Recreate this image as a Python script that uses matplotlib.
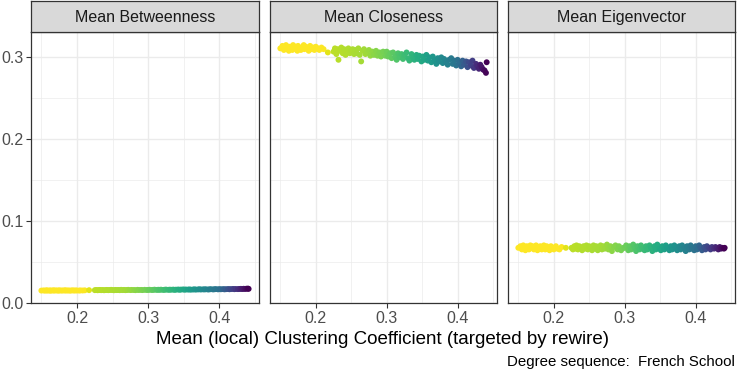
import matplotlib
matplotlib.use("Agg")
import matplotlib.pyplot as plt
import numpy as np
from matplotlib.ticker import MultipleLocator

plt.rcParams["font.family"] = ["Liberation Sans", "DejaVu Sans"]

PANELS = ["Mean Betweenness", "Mean Closeness", "Mean Eigenvector"]

# mean local clustering coefficient of each rewired network (shared by all panels)
clustering = [
    0.150, 0.153, 0.155, 0.157, 0.158, 0.160, 0.162, 0.163, 0.165, 0.167,
    0.168, 0.170, 0.172, 0.174, 0.175, 0.177, 0.179, 0.181, 0.183, 0.184,
    0.186, 0.188, 0.190, 0.192, 0.194, 0.196, 0.198, 0.200, 0.203, 0.205,
    0.208, 0.211,
    0.217,
    0.225, 0.227, 0.229, 0.231, 0.232, 0.234, 0.236, 0.238, 0.240, 0.242,
    0.244, 0.246, 0.248, 0.250, 0.252, 0.254, 0.256, 0.258, 0.260, 0.262,
    0.264, 0.266, 0.268, 0.270, 0.272, 0.275, 0.277, 0.280, 0.282, 0.285,
    0.287, 0.290, 0.292, 0.295, 0.298,
    0.300, 0.302, 0.305, 0.307, 0.309, 0.312, 0.314, 0.316, 0.318, 0.321,
    0.323, 0.325, 0.328, 0.330, 0.332, 0.335, 0.337, 0.339, 0.342, 0.344,
    0.346, 0.349, 0.351, 0.353, 0.356, 0.358, 0.360, 0.363, 0.365, 0.367,
    0.370, 0.372, 0.374, 0.377, 0.379, 0.381, 0.384, 0.386, 0.388, 0.391,
    0.393, 0.395, 0.398, 0.400, 0.402, 0.405, 0.407, 0.409, 0.412, 0.414,
    0.416, 0.419, 0.421, 0.423, 0.426, 0.428, 0.430, 0.432, 0.434, 0.436,
    0.438, 0.440, 0.441,
]

betweenness = [
    0.0147, 0.0149, 0.0146, 0.0150, 0.0148, 0.0147, 0.0149, 0.0146, 0.0148, 0.0150,
    0.0147, 0.0149, 0.0148, 0.0146, 0.0150, 0.0148, 0.0147, 0.0149, 0.0148, 0.0150,
    0.0147, 0.0149, 0.0146, 0.0148, 0.0150, 0.0147, 0.0149, 0.0148, 0.0147, 0.0149,
    0.0148, 0.0150,
    0.0152,
    0.0152, 0.0154, 0.0151, 0.0153, 0.0155, 0.0152, 0.0154, 0.0151, 0.0153, 0.0155,
    0.0152, 0.0154, 0.0156, 0.0153, 0.0151, 0.0155, 0.0153, 0.0154, 0.0152, 0.0156,
    0.0153, 0.0155, 0.0152, 0.0154, 0.0156, 0.0153, 0.0155, 0.0154, 0.0152, 0.0156,
    0.0154, 0.0155, 0.0153, 0.0156, 0.0154,
    0.0155, 0.0157, 0.0154, 0.0156, 0.0158, 0.0155, 0.0157, 0.0156, 0.0158, 0.0155,
    0.0157, 0.0159, 0.0156, 0.0158, 0.0157, 0.0159, 0.0156, 0.0158, 0.0160, 0.0157,
    0.0159, 0.0161, 0.0158, 0.0160, 0.0159, 0.0161, 0.0158, 0.0160, 0.0162, 0.0159,
    0.0161, 0.0163, 0.0160, 0.0162, 0.0161, 0.0163, 0.0160, 0.0162, 0.0164, 0.0161,
    0.0163, 0.0165, 0.0162, 0.0164, 0.0163, 0.0165, 0.0162, 0.0164, 0.0166, 0.0163,
    0.0165, 0.0167, 0.0164, 0.0166, 0.0165, 0.0167, 0.0168, 0.0166, 0.0169, 0.0167,
    0.0170, 0.0171, 0.0168,
]

closeness = [
    0.311, 0.314, 0.309, 0.313, 0.315, 0.310, 0.308, 0.313, 0.312, 0.309,
    0.315, 0.311, 0.313, 0.308, 0.314, 0.310, 0.309, 0.312, 0.315, 0.310,
    0.313, 0.311, 0.308, 0.314, 0.310, 0.312, 0.309, 0.313, 0.311, 0.309,
    0.312, 0.310,
    0.306,
    0.307, 0.311, 0.304, 0.310, 0.297, 0.308, 0.312, 0.305, 0.310, 0.303,
    0.309, 0.311, 0.305, 0.308, 0.310, 0.304, 0.309, 0.305, 0.311, 0.303,
    0.295, 0.308, 0.310, 0.304, 0.306, 0.309, 0.302, 0.307, 0.303, 0.308,
    0.302, 0.306, 0.301, 0.307, 0.302,
    0.307, 0.301, 0.305, 0.299, 0.306, 0.301, 0.297, 0.305, 0.300, 0.304,
    0.298, 0.303, 0.306, 0.299, 0.296, 0.304, 0.300, 0.297, 0.303, 0.298,
    0.302, 0.295, 0.301, 0.297, 0.303, 0.296, 0.300, 0.294, 0.301, 0.296,
    0.292, 0.299, 0.295, 0.300, 0.293, 0.298, 0.294, 0.291, 0.297, 0.299,
    0.292, 0.296, 0.290, 0.297, 0.293, 0.289, 0.296, 0.291, 0.295, 0.288,
    0.294, 0.290, 0.296, 0.287, 0.292, 0.289, 0.286, 0.291, 0.288, 0.285,
    0.284, 0.281, 0.294,
]

eigenvector = [
    0.067, 0.069, 0.065, 0.070, 0.067, 0.064, 0.069, 0.066, 0.065, 0.070,
    0.067, 0.069, 0.065, 0.068, 0.070, 0.064, 0.067, 0.069, 0.065, 0.068,
    0.070, 0.065, 0.069, 0.066, 0.064, 0.069, 0.067, 0.065, 0.069, 0.066,
    0.065, 0.068,
    0.067,
    0.067, 0.065, 0.069, 0.066, 0.070, 0.065, 0.069, 0.067, 0.064, 0.069,
    0.066, 0.070, 0.065, 0.069, 0.067, 0.064, 0.070, 0.066, 0.069, 0.064,
    0.067, 0.070, 0.065, 0.069, 0.066, 0.071, 0.065, 0.069, 0.063, 0.068,
    0.070, 0.065, 0.069, 0.064, 0.067,
    0.067, 0.070, 0.064, 0.069, 0.065, 0.071, 0.067, 0.063, 0.069, 0.065,
    0.070, 0.066, 0.064, 0.069, 0.065, 0.070, 0.067, 0.063, 0.069, 0.065,
    0.071, 0.066, 0.064, 0.069, 0.065, 0.070, 0.067, 0.064, 0.069, 0.065,
    0.070, 0.066, 0.064, 0.069, 0.065, 0.070, 0.067, 0.063, 0.069, 0.065,
    0.070, 0.066, 0.064, 0.069, 0.065, 0.070, 0.067, 0.064, 0.068, 0.065,
    0.069, 0.067, 0.065, 0.068, 0.066, 0.068, 0.067, 0.065, 0.068, 0.066,
    0.067, 0.066, 0.067,
]

series = [betweenness, closeness, eigenvector]

# colour scale: clustering value -> position on viridis (yellow = 1, purple = 0)
colour_at = [0.210, 0.225, 0.270, 0.300, 0.350, 0.400, 0.441]
viridis_pos = [1.00, 0.90, 0.86, 0.78, 0.60, 0.37, 0.00]
colours = plt.cm.viridis(np.interp(clustering, colour_at, viridis_pos))

W, H = 738, 373
fig = plt.figure(figsize=(W / 100, H / 100), dpi=100)

# panel boxes in pixels: (left, right); shared top/bottom
panel_x = [(31, 259), (270, 497), (508, 735)]
top, bottom, strip_top = 32, 303, 1

x_pad = 0.05 * (max(clustering) - min(clustering))

for i, (name, values) in enumerate(zip(PANELS, series)):
    left, right = panel_x[i]
    ax = fig.add_axes([left / W, 1 - bottom / H, (right - left) / W, (bottom - top) / H])
    ax.scatter(clustering, values, c=colours, s=18, linewidths=0, zorder=3)
    ax.set_xlim(min(clustering) - x_pad, max(clustering) + x_pad)
    ax.set_ylim(-0.0005, 0.331)
    ax.xaxis.set_major_locator(MultipleLocator(0.1))
    ax.xaxis.set_minor_locator(MultipleLocator(0.05))
    ax.yaxis.set_major_locator(MultipleLocator(0.1))
    ax.yaxis.set_minor_locator(MultipleLocator(0.05))
    ax.grid(which="major", color="#EBEBEB", lw=1.0, zorder=0)
    ax.grid(which="minor", color="#EBEBEB", lw=0.5, zorder=0)
    ax.set_axisbelow(True)
    for sp in ax.spines.values():
        sp.set_color("#333333")
        sp.set_linewidth(0.9)
    ax.tick_params(which="major", length=3.5, width=0.8, color="#333333",
                   labelsize=11.5, labelcolor="#4D4D4D", pad=2)
    ax.tick_params(which="minor", length=0)
    ax.xaxis.set_major_formatter(lambda v, p: f"{v:.1f}")
    ax.yaxis.set_major_formatter(lambda v, p: f"{v:.1f}")
    if i > 0:
        ax.tick_params(axis="y", which="major", length=0, labelleft=False)

    strip = fig.add_axes([left / W, 1 - top / H, (right - left) / W, (top - strip_top) / H])
    strip.set_facecolor("#D9D9D9")
    strip.set_xticks([])
    strip.set_yticks([])
    for sp in strip.spines.values():
        sp.set_color("#333333")
        sp.set_linewidth(0.9)
    strip.text(0.5, 0.47, name, ha="center", va="center", fontsize=11.5,
               color="#1A1A1A", transform=strip.transAxes)

fig.text((31 + 735) / 2 / W, 1 - 339 / H,
         "Mean (local) Clustering Coefficient (targeted by rewire)",
         ha="center", va="center", fontsize=13.5, color="black")
fig.text(735 / W, 1 - 362 / H, "Degree sequence:  French School",
         ha="right", va="center", fontsize=10.8, color="black")

fig.savefig("out.png", dpi=100)
